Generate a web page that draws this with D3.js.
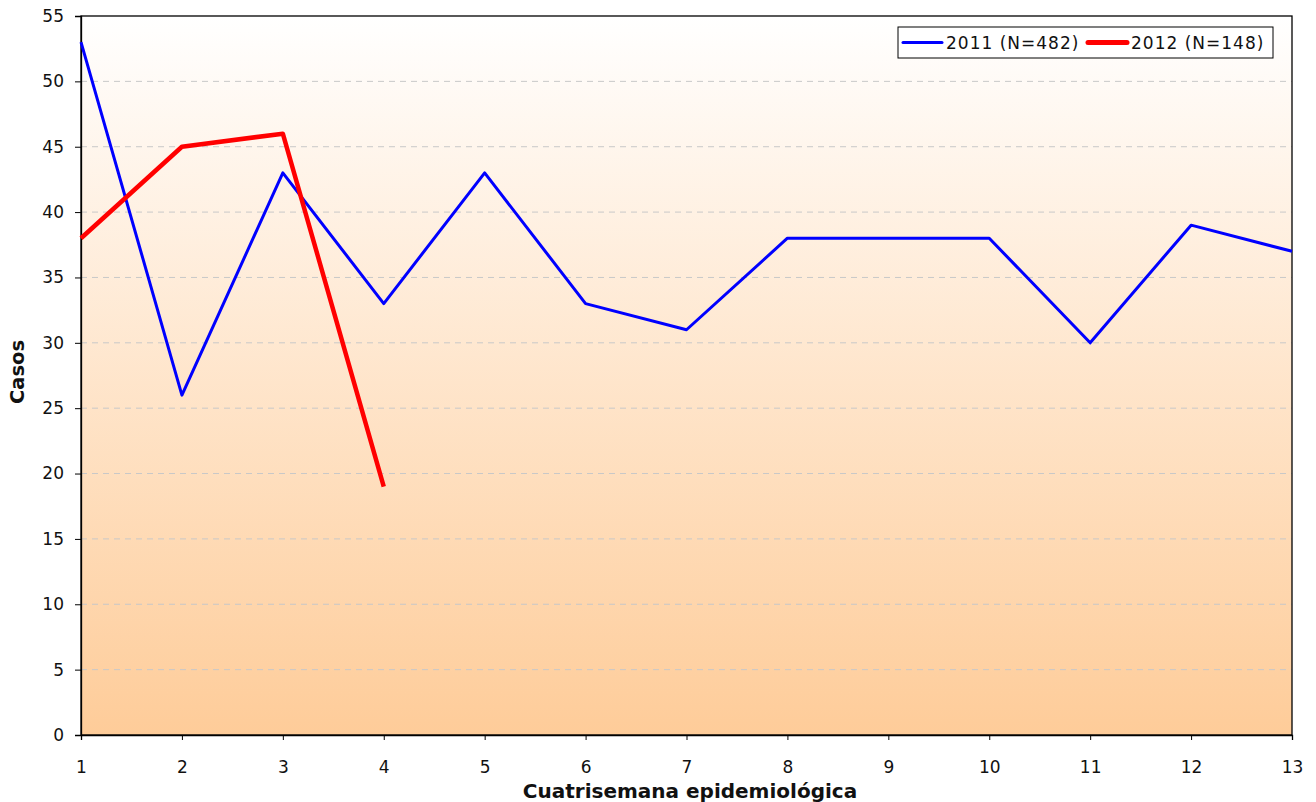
<!DOCTYPE html>
<html>
<head>
<meta charset="utf-8">
<script src="https://cdn.jsdelivr.net/npm/d3@7"></script>
<style>
  html, body { margin: 0; padding: 0; background: #ffffff; }
  svg { display: block; font-family: "DejaVu Sans", Verdana, sans-serif; }
</style>
</head>
<body>
<svg id="chart" width="1316" height="802"></svg>
<script>
// Cuatrisemanas epidemiológicas (periods of four weeks)
const periods = [1, 2, 3, 4, 5, 6, 7, 8, 9, 10, 11, 12, 13];
const cases2011 = [53, 26, 43, 33, 43, 33, 31, 38, 38, 38, 30, 39, 37];
const cases2012 = [38, 45, 46, 19];
const yTicks = [0, 5, 10, 15, 20, 25, 30, 35, 40, 45, 50, 55];
const seriesNames = ["2011 (N=482)", "2012 (N=148)"];

const svg = d3.select("#chart");
const W = 1316, H = 802;
const margin = { left: 81, top: 16, right: W - 1292, bottom: H - 735 };
const iw = W - margin.left - margin.right;
const ih = H - margin.top - margin.bottom;

const x = d3.scaleLinear().domain([1, 13]).range([margin.left, margin.left + iw]);
const y = d3.scaleLinear().domain([0, 55]).range([margin.top + ih, margin.top]);

// Background gradient of the plot area
const defs = svg.append("defs");
const grad = defs.append("linearGradient")
  .attr("id", "bg").attr("x1", 0).attr("y1", 0).attr("x2", 0).attr("y2", 1);
grad.append("stop").attr("offset", "0%").attr("stop-color", "#ffffff");
grad.append("stop").attr("offset", "100%").attr("stop-color", "#fecc99");

svg.append("rect")
  .attr("x", margin.left).attr("y", margin.top)
  .attr("width", iw).attr("height", ih)
  .attr("fill", "url(#bg)");

// Dashed horizontal gridlines
svg.append("g")
  .selectAll("line")
  .data(yTicks.filter(t => t > 0 && t < 55))
  .join("line")
  .attr("x1", margin.left).attr("x2", margin.left + iw)
  .attr("y1", d => y(d)).attr("y2", d => y(d))
  .attr("stroke", "#c8c8c8").attr("stroke-width", 1)
  .attr("stroke-dasharray", "6,5");

// Plot frame
svg.append("rect")
  .attr("x", margin.left).attr("y", margin.top)
  .attr("width", iw).attr("height", ih)
  .attr("fill", "none").attr("stroke", "#000").attr("stroke-width", 1.3);

// Y axis
const yAxis = svg.append("g")
  .attr("transform", `translate(${margin.left},0)`)
  .call(d3.axisLeft(y).tickValues(yTicks).tickSize(6).tickPadding(11));
yAxis.select(".domain").attr("stroke", "#000").attr("stroke-width", 1.3);
yAxis.selectAll(".tick line").attr("stroke", "#000");
yAxis.selectAll("text").attr("font-size", 17).attr("fill", "#111")
  .attr("font-family", "DejaVu Sans, Verdana, sans-serif");

// X axis
const xAxis = svg.append("g")
  .attr("transform", `translate(0,${margin.top + ih})`)
  .call(d3.axisBottom(x).tickValues(periods).tickFormat(d3.format("d")).tickSize(5).tickPadding(21));
xAxis.select(".domain").attr("stroke", "#000").attr("stroke-width", 1.3);
xAxis.selectAll(".tick line").attr("stroke", "#000");
xAxis.selectAll("text").attr("font-size", 17).attr("fill", "#111")
  .attr("font-family", "DejaVu Sans, Verdana, sans-serif");

// Axis titles
svg.append("text")
  .attr("x", 690).attr("y", 798)
  .attr("text-anchor", "middle").attr("font-weight", "bold").attr("font-size", 20)
  .attr("fill", "#111")
  .text("Cuatrisemana epidemiológica");

svg.append("text")
  .attr("transform", `translate(24,372) rotate(-90)`)
  .attr("text-anchor", "middle").attr("font-weight", "bold").attr("font-size", 19.5)
  .attr("fill", "#111")
  .text("Casos");

// Series lines
const line = d3.line().x((d, i) => x(periods[i])).y(d => y(d));

svg.append("path")
  .datum(cases2011)
  .attr("d", line)
  .attr("fill", "none").attr("stroke", "#0000ff").attr("stroke-width", 3)
  .attr("stroke-linejoin", "round");

svg.append("path")
  .datum(cases2012)
  .attr("d", line)
  .attr("fill", "none").attr("stroke", "#ff0000").attr("stroke-width", 4.5)
  .attr("stroke-linejoin", "round");

// Legend
const lg = svg.append("g").attr("transform", "translate(898,27)");
lg.append("rect")
  .attr("width", 375).attr("height", 31)
  .attr("fill", "#ffffff").attr("stroke", "#000").attr("stroke-width", 1);
const items = [
  { name: seriesNames[0], color: "#0000ff", w: 3, x0: 5 },
  { name: seriesNames[1], color: "#ff0000", w: 5, x0: 190 }
];
items.forEach(it => {
  lg.append("line")
    .attr("x1", it.x0).attr("x2", it.x0 + 39)
    .attr("y1", 15.5).attr("y2", 15.5)
    .attr("stroke", it.color).attr("stroke-width", it.w).attr("stroke-linecap", "round");
  lg.append("text")
    .attr("x", it.x0 + 43).attr("y", 22)
    .attr("font-size", 17).attr("letter-spacing", 1).attr("fill", "#111")
    .text(it.name);
});
</script>
</body>
</html>
